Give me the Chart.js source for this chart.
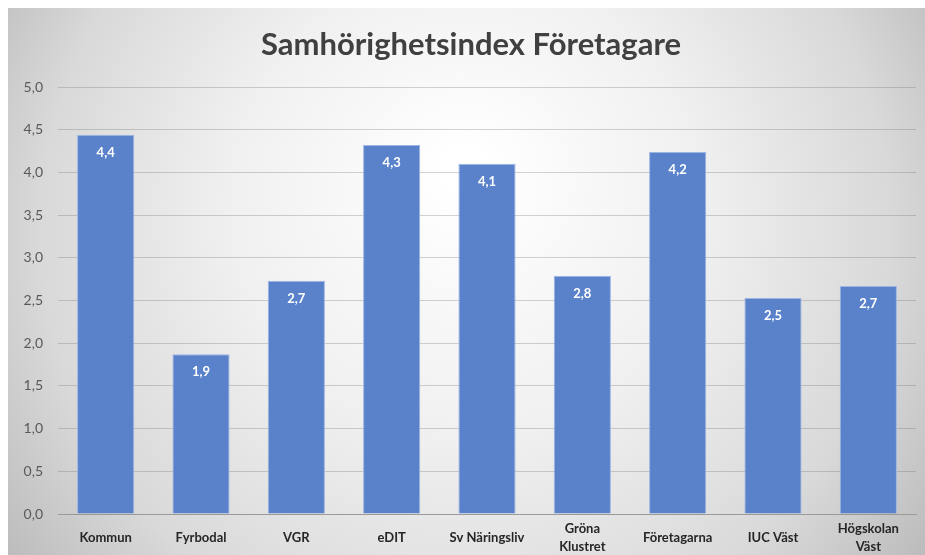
<!DOCTYPE html>
<html>
<head>
<meta charset="utf-8">
<script src="https://cdn.jsdelivr.net/npm/chart.js"></script>
<style>
  html, body { margin: 0; padding: 0; background: #fff; }
  #wrap { width: 925px; height: 555px; }
</style>
</head>
<body>
<div id="wrap"><canvas id="chart" width="925" height="555"></canvas></div>
<script>
// data
const categories = ['Kommun', 'Fyrbodal', 'VGR', 'eDIT', 'Sv Näringsliv', ['Gröna', 'Klustret'], 'Företagarna', 'IUC Väst', ['Högskolan', 'Väst']];
const values = [4.44, 1.87, 2.73, 4.32, 4.10, 2.79, 4.24, 2.53, 2.67];
const yTicks = [0, 0.5, 1, 1.5, 2, 2.5, 3, 3.5, 4, 4.5, 5];
const chartTitle = 'Samhörighetsindex Företagare';

const fmt = v => v.toFixed(1).replace('.', ',');

// gray radial backdrop like the office chart
const backdrop = {
    id: 'backdrop',
    beforeDraw(chart) {
        const ctx = chart.ctx;
        ctx.save();
        ctx.fillStyle = '#ffffff';
        ctx.fillRect(0, 0, chart.width, chart.height);
        const g = ctx.createRadialGradient(465, 170, 20, 465, 250, 560);
        g.addColorStop(0, '#ffffff');
        g.addColorStop(0.4, '#f0f0f0');
        g.addColorStop(0.75, '#d9d9d9');
        g.addColorStop(1, '#bababa');
        ctx.fillStyle = g;
        ctx.fillRect(8, 8, chart.width - 8, chart.height - 8);
        ctx.restore();
    }
};

// title sits a bit right of the canvas centre, like the original
const titleText = {
    id: 'titleText',
    afterDraw(chart) {
        const ctx = chart.ctx;
        ctx.save();
        ctx.fillStyle = '#404040';
        ctx.font = 'bold 31px Lato';
        ctx.textAlign = 'center';
        ctx.textBaseline = 'middle';
        ctx.fillText(chartTitle, 471, 45);
        ctx.restore();
    }
};

// value labels inside the top of each bar
const barLabels = {
    id: 'barLabels',
    afterDatasetsDraw(chart) {
        const ctx = chart.ctx;
        const meta = chart.getDatasetMeta(0);
        ctx.save();
        ctx.fillStyle = '#ffffff';
        ctx.font = 'bold 13px Lato';
        ctx.textAlign = 'center';
        ctx.textBaseline = 'middle';
        meta.data.forEach((bar, i) => {
            ctx.fillText(fmt(values[i]), bar.x, bar.y + 18);
        });
        ctx.restore();
    }
};

new Chart(document.getElementById('chart').getContext('2d'), {
    type: 'bar',
    data: {
        labels: categories,
        datasets: [{
            data: values,
            backgroundColor: '#5a82cb',
            borderColor: '#9db5e3',
            borderWidth: 1,
            barPercentage: 0.6,
            categoryPercentage: 1.0
        }]
    },
    options: {
        responsive: false,
        animation: false,
        layout: { padding: { left: 8, right: 9, top: 87, bottom: 0 } },
        plugins: {
            legend: { display: false },
            tooltip: { enabled: false },
            title: { display: false }
        },
        scales: {
            x: {
                grid: { display: false, drawTicks: false },
                border: { display: true, color: '#9a9a9a', width: 1 },
                ticks: {
                    color: '#262626',
                    font: { family: 'Lato', size: 13, weight: 'bold', lineHeight: 1.4 },
                    padding: 15,
                    maxRotation: 0,
                    autoSkip: false,
                    crossAlign: 'center'
                },
                afterFit(scale) { scale.height = 41; }
            },
            y: {
                min: 0,
                max: 5,
                afterBuildTicks(scale) { scale.ticks = yTicks.map(v => ({ value: v })); },
                grid: { color: 'rgba(110,110,110,0.3)', drawTicks: false },
                border: { display: false },
                ticks: {
                    color: '#595959',
                    font: { family: 'Lato', size: 14 },
                    padding: 15,
                    callback: v => fmt(v)
                },
                afterFit(scale) { scale.width = 50; }
            }
        }
    },
    plugins: [backdrop, barLabels, titleText]
});
</script>
</body>
</html>
